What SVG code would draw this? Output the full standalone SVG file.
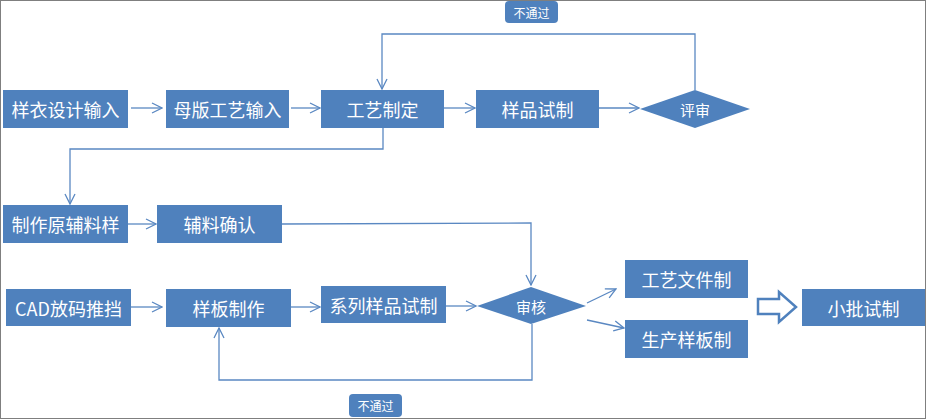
<svg xmlns="http://www.w3.org/2000/svg" width="926" height="419" viewBox="0 0 926 419">
<defs>
<style>
.box{fill:#4F81BD}
.t{fill:#fff;font-family:"Noto Sans CJK SC","Liberation Sans",sans-serif;font-size:18px;text-anchor:middle;dominant-baseline:central}
.td{fill:#fff;font-family:"Noto Sans CJK SC",sans-serif;font-size:15px;text-anchor:middle;dominant-baseline:central}
.tl{fill:#fff;font-family:"Noto Sans CJK SC",sans-serif;font-size:12px;text-anchor:middle;dominant-baseline:central}
.c{fill:none;stroke:#5A88C2;stroke-width:1.3}
</style>
<marker id="ah" viewBox="0 0 12 12" refX="11" refY="6" markerWidth="12" markerHeight="12" markerUnits="userSpaceOnUse" orient="auto">
<path d="M1,1 L11,6 L1,11" fill="none" stroke="#5A88C2" stroke-width="1.3"/>
</marker>
</defs>
<rect x="0.5" y="0.5" width="925" height="418" fill="#fff" stroke="#7f7f7f" stroke-width="1"/>

<g id="connectors">
<line class="c" x1="131" y1="108" x2="162" y2="108" marker-end="url(#ah)"/>
<line class="c" x1="291" y1="108" x2="320" y2="108" marker-end="url(#ah)"/>
<line class="c" x1="444" y1="108" x2="475" y2="108" marker-end="url(#ah)"/>
<line class="c" x1="599" y1="108" x2="639" y2="108" marker-end="url(#ah)"/>
<polyline class="c" points="695,90 695,34 382,34 382,89" marker-end="url(#ah)"/>
<polyline class="c" points="383,128 383,149 70,149 70,204" marker-end="url(#ah)"/>
<line class="c" x1="128" y1="224" x2="156" y2="224" marker-end="url(#ah)"/>
<polyline class="c" points="282,224 531,223 531,285" marker-end="url(#ah)"/>
<line class="c" x1="131" y1="307" x2="162" y2="307" marker-end="url(#ah)"/>
<line class="c" x1="291" y1="307" x2="320" y2="307" marker-end="url(#ah)"/>
<line class="c" x1="446" y1="306" x2="476" y2="306" marker-end="url(#ah)"/>
<polyline class="c" points="532,324 532,380 219,380 219,328" marker-end="url(#ah)"/>
<line class="c" x1="587" y1="303" x2="616" y2="289" marker-end="url(#ah)"/>
<line class="c" x1="587" y1="320" x2="624" y2="328" marker-end="url(#ah)"/>
</g>

<g id="n1"><rect class="box" x="3" y="90" width="125" height="38"/><text class="t" x="65.5" y="109">样衣设计输入</text></g>
<g id="n2"><rect class="box" x="166" y="90" width="123" height="38"/><text class="t" x="227.5" y="109">母版工艺输入</text></g>
<g id="n3"><rect class="box" x="321" y="90" width="123" height="38"/><text class="t" x="382.5" y="109">工艺制定</text></g>
<g id="n4"><rect class="box" x="476" y="90" width="123" height="38"/><text class="t" x="537.5" y="109">样品试制</text></g>
<g id="n5"><polygon class="box" points="640,109 695,90 750,109 695,128"/><text class="td" x="695" y="109">评审</text></g>
<g id="l1"><rect class="box" x="505" y="1" width="53" height="22" rx="4"/><text class="tl" x="531.5" y="12">不通过</text></g>

<g id="n6"><rect class="box" x="3" y="205" width="125" height="38"/><text class="t" x="65.5" y="224">制作原辅料样</text></g>
<g id="n7"><rect class="box" x="157" y="205" width="125" height="38"/><text class="t" x="219.5" y="224">辅料确认</text></g>

<g id="n8"><rect class="box" x="6" y="289" width="125" height="37"/><text class="t" x="68.5" y="307.5">CAD放码推挡</text></g>
<g id="n9"><rect class="box" x="166" y="289" width="125" height="38"/><text class="t" x="228.5" y="308">样板制作</text></g>
<g id="n10"><rect class="box" x="321" y="286" width="125" height="37"/><text class="t" x="383.5" y="304.5">系列样品试制</text></g>
<g id="n11"><polygon class="box" points="477,306 531,287 586,306 531,324"/><text class="td" x="531" y="306">审核</text></g>
<g id="l2"><rect class="box" x="349" y="394" width="53" height="23" rx="4"/><text class="tl" x="375.5" y="405.5">不通过</text></g>
<g id="n12"><rect class="box" x="625" y="260" width="123" height="38"/><text class="t" x="686.5" y="279">工艺文件制</text></g>
<g id="n13"><rect class="box" x="625" y="320" width="123" height="38"/><text class="t" x="686.5" y="339">生产样板制</text></g>
<g id="blockarrow"><polygon points="758,299 779,299 779,292 796,307 779,322 779,314 758,314" fill="#fff" stroke="#4F81BD" stroke-width="2.5" stroke-linejoin="miter"/></g>
<g id="n14"><rect class="box" x="802" y="289" width="123" height="37"/><text class="t" x="863.5" y="307.5">小批试制</text></g>
</svg>
